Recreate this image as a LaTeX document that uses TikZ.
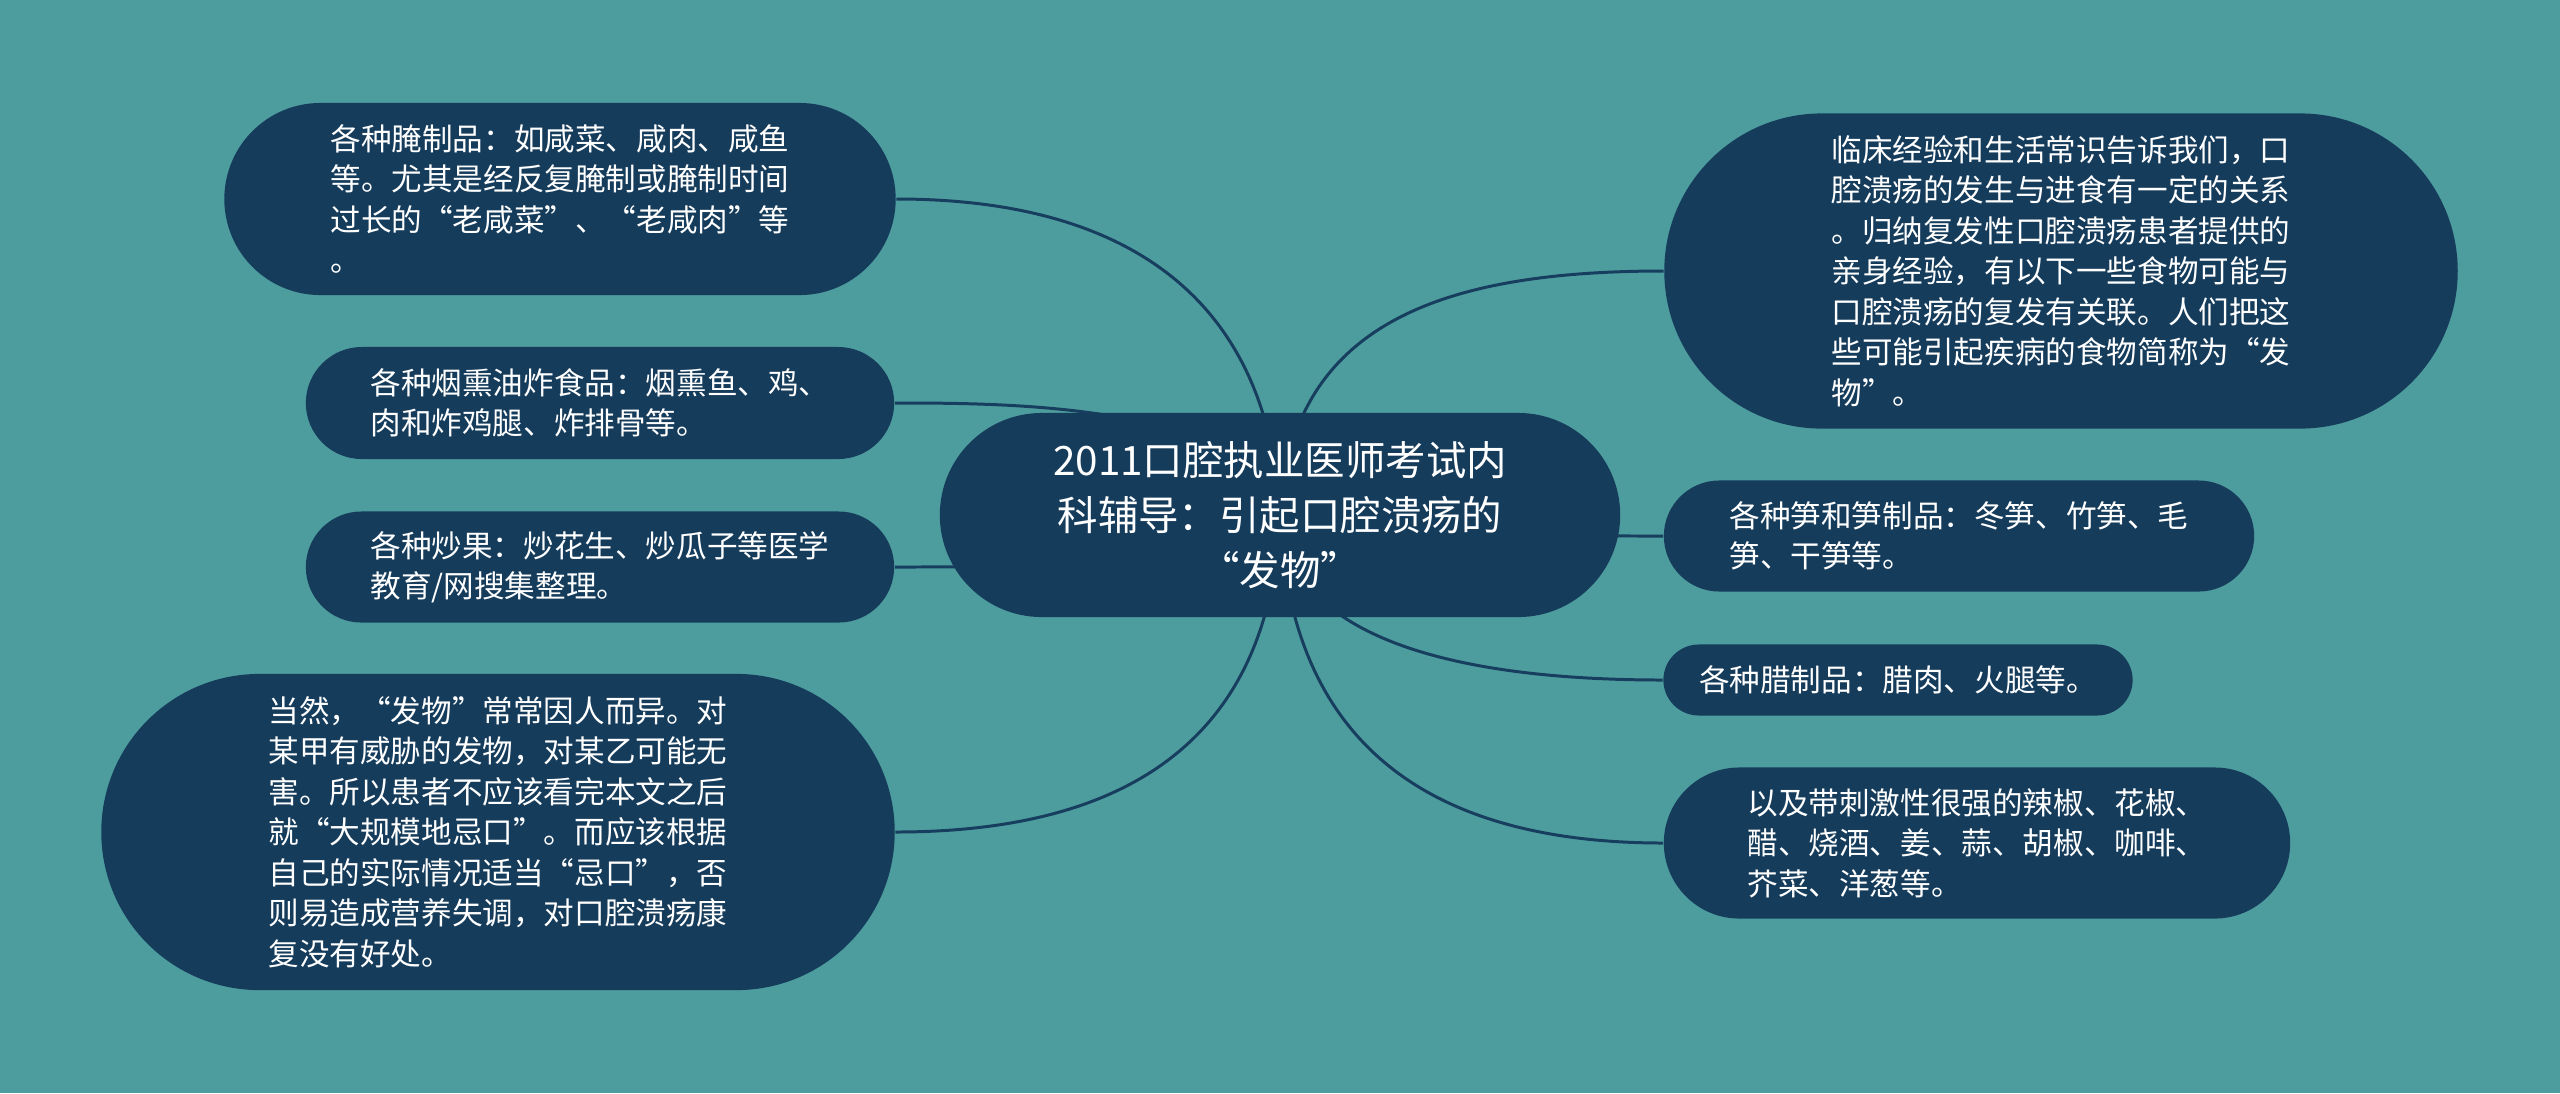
\documentclass[tikz,border=0pt]{standalone}
\usepackage{fontspec}
\setmainfont{Noto Sans CJK SC}
\usetikzlibrary{backgrounds}

\definecolor{bgteal}{HTML}{4E9D9E}
\definecolor{navy}{HTML}{163C5C}
\definecolor{linecol}{HTML}{173E5E}

\begin{document}
\begin{tikzpicture}[x=0.01cm, y=-0.01cm,
        pill/.style={fill=navy, text=white, rounded corners=#1, minimum height=2*#1, inner sep=0pt},
        topic/.style={pill=#1, align=center, font=\fontsize{11.5}{15.6}\selectfont},
        leaf/.style={pill=#1, align=left, font=\fontsize{8.7}{11.5}\selectfont},
        link/.style={draw=linecol, line width=0.85pt}]

    % central topic
    \node (root) [topic=1.02cm, minimum width=6.8cm] at (1280,515) {2011口腔执业医师考试内\\科辅导：引起口腔溃疡的\\“发物”};

    % left side
    \node (pickled) [leaf=0.96cm, minimum width=6.71cm] at (560,199) {各种腌制品：如咸菜、咸肉、咸鱼\\等。尤其是经反复腌制或腌制时间\\过长的“老咸菜”、“老咸肉”等\\。};
    \node (smoked) [leaf=0.56cm, minimum width=5.88cm] at (600,403) {各种烟熏油炸食品：烟熏鱼、鸡、\\肉和炸鸡腿、炸排骨等。};
    \node (nuts) [leaf=0.555cm, minimum width=5.88cm] at (600,567) {各种炒果：炒花生、炒瓜子等医学\\教育/网搜集整理。};
    \node (note) [leaf=1.58cm, minimum width=7.93cm] at (498,832) {当然，“发物”常常因人而异。对\\某甲有威胁的发物，对某乙可能无\\害。所以患者不应该看完本文之后\\就“大规模地忌口”。而应该根据\\自己的实际情况适当“忌口”，否\\则易造成营养失调，对口腔溃疡康\\复没有好处。};

    % right side
    \node (intro) [leaf=1.575cm, minimum width=7.93cm] at (2061,271) {临床经验和生活常识告诉我们，口\\腔溃疡的发生与进食有一定的关系\\。归纳复发性口腔溃疡患者提供的\\亲身经验，有以下一些食物可能与\\口腔溃疡的复发有关联。人们把这\\些可能引起疾病的食物简称为“发\\物”。};
    \node (shoots) [leaf=0.555cm, minimum width=5.9cm] at (1959,536) {各种笋和笋制品：冬笋、竹笋、毛\\笋、干笋等。};
    \node (cured) [leaf=0.355cm, minimum width=4.69cm] at (1898,680) {各种腊制品：腊肉、火腿等。};
    \node (spicy) [leaf=0.755cm, minimum width=6.26cm] at (1977,843) {以及带刺激性很强的辣椒、花椒、\\醋、烧酒、姜、蒜、胡椒、咖啡、\\芥菜、洋葱等。};

    \begin{pgfonlayer}{background}
        \fill[bgteal] (0,0) rectangle (2560,1093);
        \path[link]
            (root.center) .. controls +(-10,-200) and +(250,0) .. (pickled.east)
            (root.center) .. controls +(-30,-112) and +(110,0) .. (smoked.east)
            (root.center) .. controls +(-80,52) and +(110,0) .. (nuts.east)
            (root.center) .. controls +(-10,245) and +(205,0) .. (note.east)
            (root.center) .. controls +(10,-195) and +(-215,0) .. (intro.west)
            (root.center) .. controls +(100,21) and +(-100,0) .. (shoots.west)
            (root.center) .. controls +(10,145) and +(-144,0) .. (cured.west)
            (root.center) .. controls +(10,245) and +(-214,0) .. (spicy.west);
    \end{pgfonlayer}
\end{tikzpicture}
\end{document}
